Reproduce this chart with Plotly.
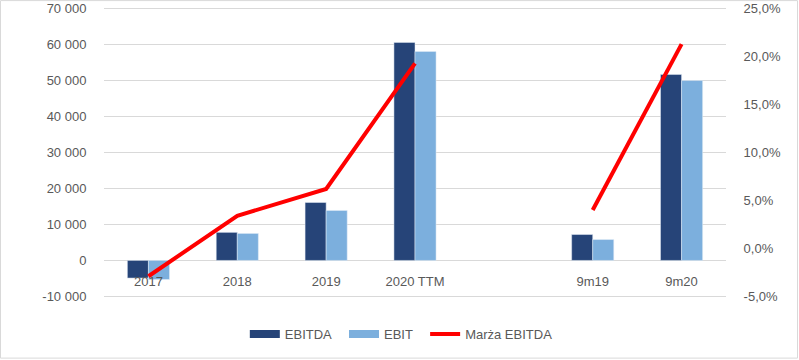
import plotly.graph_objects as go

categories = ["2017", "2018", "2019", "2020 TTM", " ", "9m19", "9m20"]
ebitda = [-4900, 7800, 16100, 60600, None, 7200, 51700]
ebit = [-5300, 7500, 13900, 58100, None, 5800, 50000]
marza = [-2.9, 3.4, 6.2, 19.3, None, 4.0, 21.3]

left_ticks = [-10000, 0, 10000, 20000, 30000, 40000, 50000, 60000, 70000]
left_labels = ["-10 000", "0", "10 000", "20 000", "30 000", "40 000", "50 000", "60 000", "70 000"]
right_ticks = [-5, 0, 5, 10, 15, 20, 25]
right_labels = ["-5,0%", "0,0%", "5,0%", "10,0%", "15,0%", "20,0%", "25,0%"]

col_ebitda, col_ebit, col_marza = "#264478", "#7CAFDD", "#FF0000"

W, H = 799, 360
# pixel positions of first/last ticks in the picture
top_tick_px, bottom_tick_px = 8.5, 296.7
ymin, ymax = left_ticks[0], left_ticks[-1]
px_per_unit = (bottom_tick_px - top_tick_px) / (ymax - ymin)
pad_px = 1.6
pad = pad_px / px_per_unit
frac_pad = pad / (ymax - ymin)
rmin, rmax = right_ticks[0], right_ticks[-1]
rpad = frac_pad * (rmax - rmin)

ml, mr = 104, 73
mt = top_tick_px - pad_px
mb = H - (bottom_tick_px + pad_px)
pw, ph = W - ml - mr, H - mt - mb

font = dict(family="Liberation Sans, Arial, sans-serif", size=13, color="#595959")
gap = "\u00a0\u00a0"

fig = go.Figure()
fig.add_trace(go.Bar(x=categories, y=ebitda, name="EBITDA", marker_color=col_ebitda, showlegend=False))
fig.add_trace(go.Bar(x=categories, y=ebit, name="EBIT", marker_color=col_ebit, showlegend=False))
fig.add_trace(go.Scatter(x=categories, y=marza, name="Marża EBITDA", yaxis="y2",
                         mode="lines", line=dict(color=col_marza, width=4), showlegend=False))
# legend entries (Excel-style wide swatches)
fig.add_trace(go.Scatter(x=[None], y=[None], name="EBITDA" + gap, mode="lines",
                         line=dict(color=col_ebitda, width=8)))
fig.add_trace(go.Scatter(x=[None], y=[None], name="EBIT" + gap, mode="lines",
                         line=dict(color=col_ebit, width=8)))
fig.add_trace(go.Scatter(x=[None], y=[None], name="Marża EBITDA", mode="lines",
                         line=dict(color=col_marza, width=4)))

zero_pos = (0 - (ymin - pad)) / ((ymax + pad) - (ymin - pad))

fig.update_layout(
    width=W, height=H,
    margin=dict(l=ml, r=mr, t=mt, b=mb, autoexpand=False),
    paper_bgcolor="white", plot_bgcolor="white",
    font=font,
    barmode="group", bargap=0.526, bargroupgap=0,
    xaxis=dict(type="category", categoryorder="array", categoryarray=categories,
               anchor="free", position=zero_pos, showline=False, showgrid=False,
               ticks="outside", ticklen=9, tickcolor="rgba(0,0,0,0)",
               tickfont=font, automargin=False),
    yaxis=dict(range=[ymin - pad, ymax + pad], tickvals=left_ticks, ticktext=left_labels,
               showgrid=True, gridcolor="#D9D9D9", gridwidth=1, zeroline=False,
               showline=False, ticks="outside", ticklen=14, tickcolor="rgba(0,0,0,0)",
               tickfont=font, automargin=False, ticklabeloverflow="allow"),
    yaxis2=dict(range=[rmin - rpad, rmax + rpad],
                tickvals=right_ticks, ticktext=right_labels,
                overlaying="y", side="right", showgrid=False, zeroline=False, showline=False,
                ticks="outside", ticklen=14, tickcolor="rgba(0,0,0,0)", tickfont=font,
                automargin=False, ticklabeloverflow="allow"),
    legend=dict(orientation="h", x=0.478, xanchor="center", yref="container",
                y=1 - 334 / H, yanchor="middle", font=font, traceorder="normal"),
    showlegend=True,
)

fig.add_shape(type="rect", xref="paper", yref="paper",
              x0=-(ml - 0.5) / pw, x1=1 + (mr - 1.5) / pw,
              y0=-(mb - 1.5) / ph, y1=1 + (mt - 0.5) / ph,
              line=dict(color="#D9D9D9", width=1), fillcolor="rgba(0,0,0,0)", layer="below")

fig.write_html("out.html", config={"displayModeBar": False},
               post_script="document.body.style.margin='0';document.body.style.padding='0';")
